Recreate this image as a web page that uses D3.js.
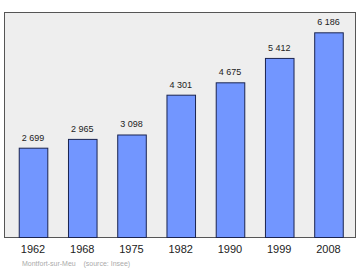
<!DOCTYPE html>
<html>
<head>
<meta charset="utf-8">
<title>population</title>
<script src="https://cdn.jsdelivr.net/npm/d3@7"></script>
<style>
    body { margin: 0; background: #fff; }
    text { font-family: "Liberation Sans", Arial, sans-serif; }
</style>
</head>
<body>
<svg id="chart" width="360" height="270"></svg>
<script>
    // data
    var years = ["1962", "1968", "1975", "1982", "1990", "1999", "2008"];
    var population = [2699, 2965, 3098, 4301, 4675, 5412, 6186];
    var sourceText = "Montfort-sur-Meu    (source: Insee)";

    var svg = d3.select("#chart");

    var x = d3.scaleBand()
        .domain(years)
        .range([8.4, 353.1])
        .paddingInner(0.42)
        .paddingOuter(0.21);

    var y = d3.scaleLinear()
        .domain([0, 6800])
        .range([237, 12]);

    // frame
    svg.append("rect")
        .attr("x", 4.5).attr("y", 12.5)
        .attr("width", 351).attr("height", 225)
        .attr("fill", "#eeeeee")
        .attr("stroke", "#555")
        .attr("stroke-width", 1);

    var fmt = function(v) { return d3.format(",")(v).replace(/,/g, " "); };

    var bars = svg.selectAll(".bar").data(population).enter();

    bars.append("rect")
        .attr("class", "bar")
        .attr("x", function(d, i) { return x(years[i]) + 0.5; })
        .attr("y", function(d) { return y(d) + 0.5; })
        .attr("width", x.bandwidth())
        .attr("height", function(d) { return y(0) - y(d); })
        .attr("fill", "#7296ff")
        .attr("stroke", "#1a2450")
        .attr("stroke-width", 1);

    bars.append("text")
        .attr("x", function(d, i) { return x(years[i]) + x.bandwidth() / 2; })
        .attr("y", function(d) { return y(d) - 7; })
        .attr("text-anchor", "middle")
        .attr("font-size", "9px")
        .attr("fill", "#222")
        .text(fmt);

    // year axis labels
    svg.selectAll(".year").data(years).enter()
        .append("text")
        .attr("x", function(d) { return x(d) + x.bandwidth() / 2; })
        .attr("y", 253)
        .attr("text-anchor", "middle")
        .attr("font-size", "11px")
        .attr("fill", "#222")
        .text(function(d) { return d; });

    svg.append("text")
        .attr("x", 22)
        .attr("y", 266)
        .attr("font-size", "7px")
        .attr("fill", "#aaa")
        .attr("xml:space", "preserve")
        .text(sourceText);
</script>
</body>
</html>
